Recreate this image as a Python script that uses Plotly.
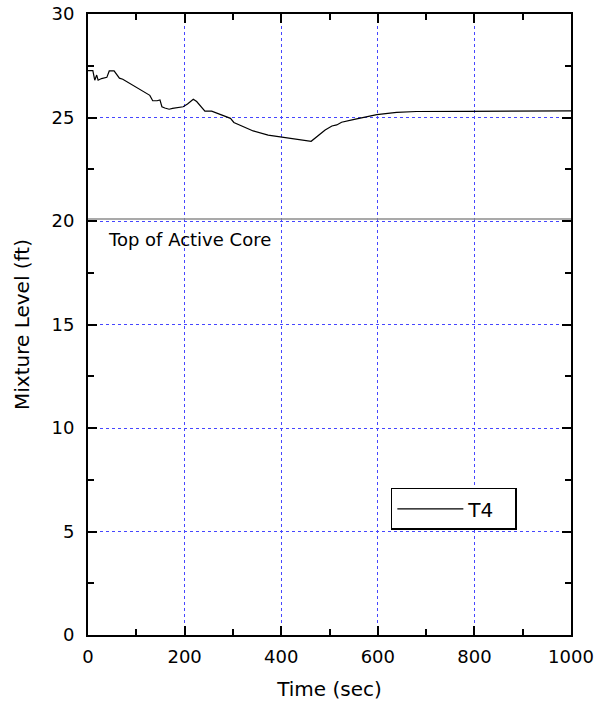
import plotly.graph_objects as go

time_sec = [0, 10, 14, 18, 21, 28, 39, 44, 54, 65, 72, 75, 94, 111, 128, 134, 143, 149,
            153, 159, 168, 175, 197, 206, 218, 225, 242, 256, 273, 295, 302, 322, 342,
            373, 398, 432, 462, 491, 505, 515, 525, 549, 577, 598, 639, 680, 784, 1000]
level_ft = [27.26, 27.26, 26.8, 27.05, 26.8, 26.88, 26.94, 27.25, 27.25, 26.9, 26.85,
            26.81, 26.55, 26.33, 26.07, 25.81, 25.81, 25.85, 25.52, 25.46, 25.4, 25.44,
            25.52, 25.65, 25.88, 25.77, 25.31, 25.31, 25.15, 24.96, 24.76, 24.56, 24.35,
            24.15, 24.07, 23.95, 23.85, 24.4, 24.59, 24.64, 24.77, 24.9, 25.04, 25.14,
            25.25, 25.29, 25.3, 25.32]
series_name = "T4"
taf_level = 20.1
taf_label = "Top of Active Core"
x_ticks = [0, 200, 400, 600, 800, 1000]
y_ticks = [0, 5, 10, 15, 20, 25, 30]

FONT = "DejaVu Sans"
GRID = "rgb(70,70,255)"

fig = go.Figure()
fig.add_trace(go.Scatter(x=time_sec, y=level_ft, mode="lines", name=series_name,
                         line=dict(color="black", width=1.2)))

fig.add_shape(type="line", xref="paper", x0=0, x1=1, yref="y", y0=taf_level, y1=taf_level,
              line=dict(color="rgb(140,140,140)", width=1.5))
fig.add_annotation(x=38, y=19.1, text=taf_label, showarrow=False, xanchor="left",
                   yanchor="middle", font=dict(family=FONT, size=18, color="black"))

axis_common = dict(showline=True, linecolor="black", linewidth=2, mirror="allticks",
                   ticks="inside", ticklen=9, tickwidth=2, tickcolor="black",
                   showgrid=True, gridcolor=GRID, griddash="dot", gridwidth=1,
                   zeroline=False, automargin=False, ticklabeloverflow="allow",
                   tickfont=dict(family=FONT, size=18, color="black"))

fig.update_xaxes(range=[0, 1000], tickvals=x_ticks,
                 minor=dict(dtick=100, ticklen=6, tickwidth=2, tickcolor="black",
                            ticks="inside", showgrid=False),
                 title=dict(text="Time (sec)", font=dict(family=FONT, size=20, color="black"),
                            standoff=16),
                 ticklabelstandoff=4,
                 **axis_common)
fig.update_yaxes(range=[0, 30], tickvals=y_ticks,
                 minor=dict(dtick=2.5, ticklen=6, tickwidth=2, tickcolor="black",
                            ticks="inside", showgrid=False),
                 title=dict(text="Mixture Level (ft)", font=dict(family=FONT, size=20, color="black"),
                            standoff=16),
                 ticklabelstandoff=8,
                 **axis_common)

fig.update_layout(
    width=599, height=704,
    margin=dict(l=88, r=28, t=14, b=69, autoexpand=False),
    plot_bgcolor="white", paper_bgcolor="white",
    showlegend=True,
    legend=dict(x=0.627, y=0.237, xanchor="left", yanchor="top",
                bordercolor="black", borderwidth=1.5, bgcolor="white",
                font=dict(family=FONT, size=20, color="black"),
                itemwidth=66, orientation="h", entrywidth=42),
    font=dict(family=FONT, color="black"),
)

fig.write_html("out.html", config={"displayModeBar": False},
               post_script="document.body.style.margin='0px';")
